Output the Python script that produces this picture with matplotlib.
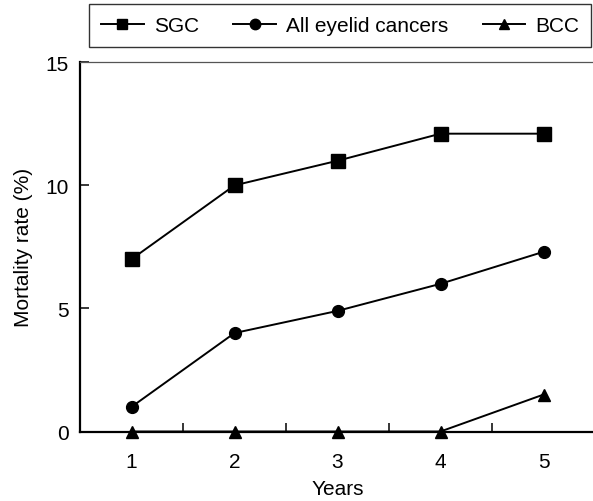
import matplotlib
matplotlib.use("Agg")
import matplotlib.pyplot as plt
from matplotlib.ticker import FixedLocator

years = [1, 2, 3, 4, 5]
sgc = [7.0, 10.0, 11.0, 12.1, 12.1]
all_eyelid = [1.0, 4.0, 4.9, 6.0, 7.3]
bcc = [0.0, 0.0, 0.0, 0.0, 1.5]
series_names = ["SGC", "All eyelid cancers", "BCC"]
yticks = [0, 5, 10, 15]

plt.rcParams['font.family'] = ['Liberation Sans', 'DejaVu Sans']
FS = 15

W, H = 593, 502
fig = plt.figure(figsize=(W / 100, H / 100), dpi=100)
left_px, right_px, bottom_px, top_px = 80, 595, 432.5, 63.3
ax = fig.add_axes([left_px / W, 1 - bottom_px / H, (right_px - left_px) / W, (bottom_px - top_px) / H])

lw = 1.4
ax.plot(years, sgc, color='black', lw=lw, marker='s', ms=9.5, label=series_names[0], clip_on=False, zorder=3)
ax.plot(years, all_eyelid, color='black', lw=lw, marker='o', ms=8.5, label=series_names[1], clip_on=False, zorder=3)
ax.plot(years, bcc, color='black', lw=lw, marker='^', ms=8.5, label=series_names[2], clip_on=False, zorder=3)

ax.set_xlim(0.5, 5.5)
ax.set_ylim(0, 15)
ax.set_xticks(years)
ax.set_xticklabels([str(y) for y in years], fontsize=FS)
ax.xaxis.set_minor_locator(FixedLocator([1.5, 2.5, 3.5, 4.5]))
ax.tick_params(axis='x', which='major', length=0, pad=15)
ax.tick_params(axis='x', which='minor', direction='in', length=6.5, width=1.1)
ax.set_yticks(yticks)
ax.set_yticklabels([str(v) for v in yticks], fontsize=FS)
ax.tick_params(axis='y', which='major', direction='in', length=6.5, width=1.1, pad=8)

for s in ['left', 'bottom']:
    ax.spines[s].set_linewidth(1.6)
    ax.spines[s].set_color('black')
ax.spines['top'].set_linewidth(0.9)
ax.spines['top'].set_color('#555555')
ax.spines['right'].set_visible(False)

ax.set_ylabel("Mortality rate (%)", fontsize=FS, va='center')
ax.yaxis.set_label_coords((24 - left_px) / (right_px - left_px), 0.5)
ax.set_xlabel("Years", fontsize=FS, va='center')
ax.xaxis.set_label_coords(0.5, -(490 - bottom_px) / (bottom_px - top_px))

leg = fig.legend(loc='upper left', bbox_to_anchor=(89 / W, 1 - 5 / H), ncol=3,
                 fontsize=FS, frameon=True, fancybox=False, edgecolor='black',
                 handlelength=2.05, handletextpad=0.48, columnspacing=1.65,
                 borderpad=0.58, borderaxespad=0, numpoints=1)
leg.get_frame().set_linewidth(1.0)
for h in leg.legend_handles:
    h.set_markersize(7.5)

fig.savefig("out.png", dpi=100)
